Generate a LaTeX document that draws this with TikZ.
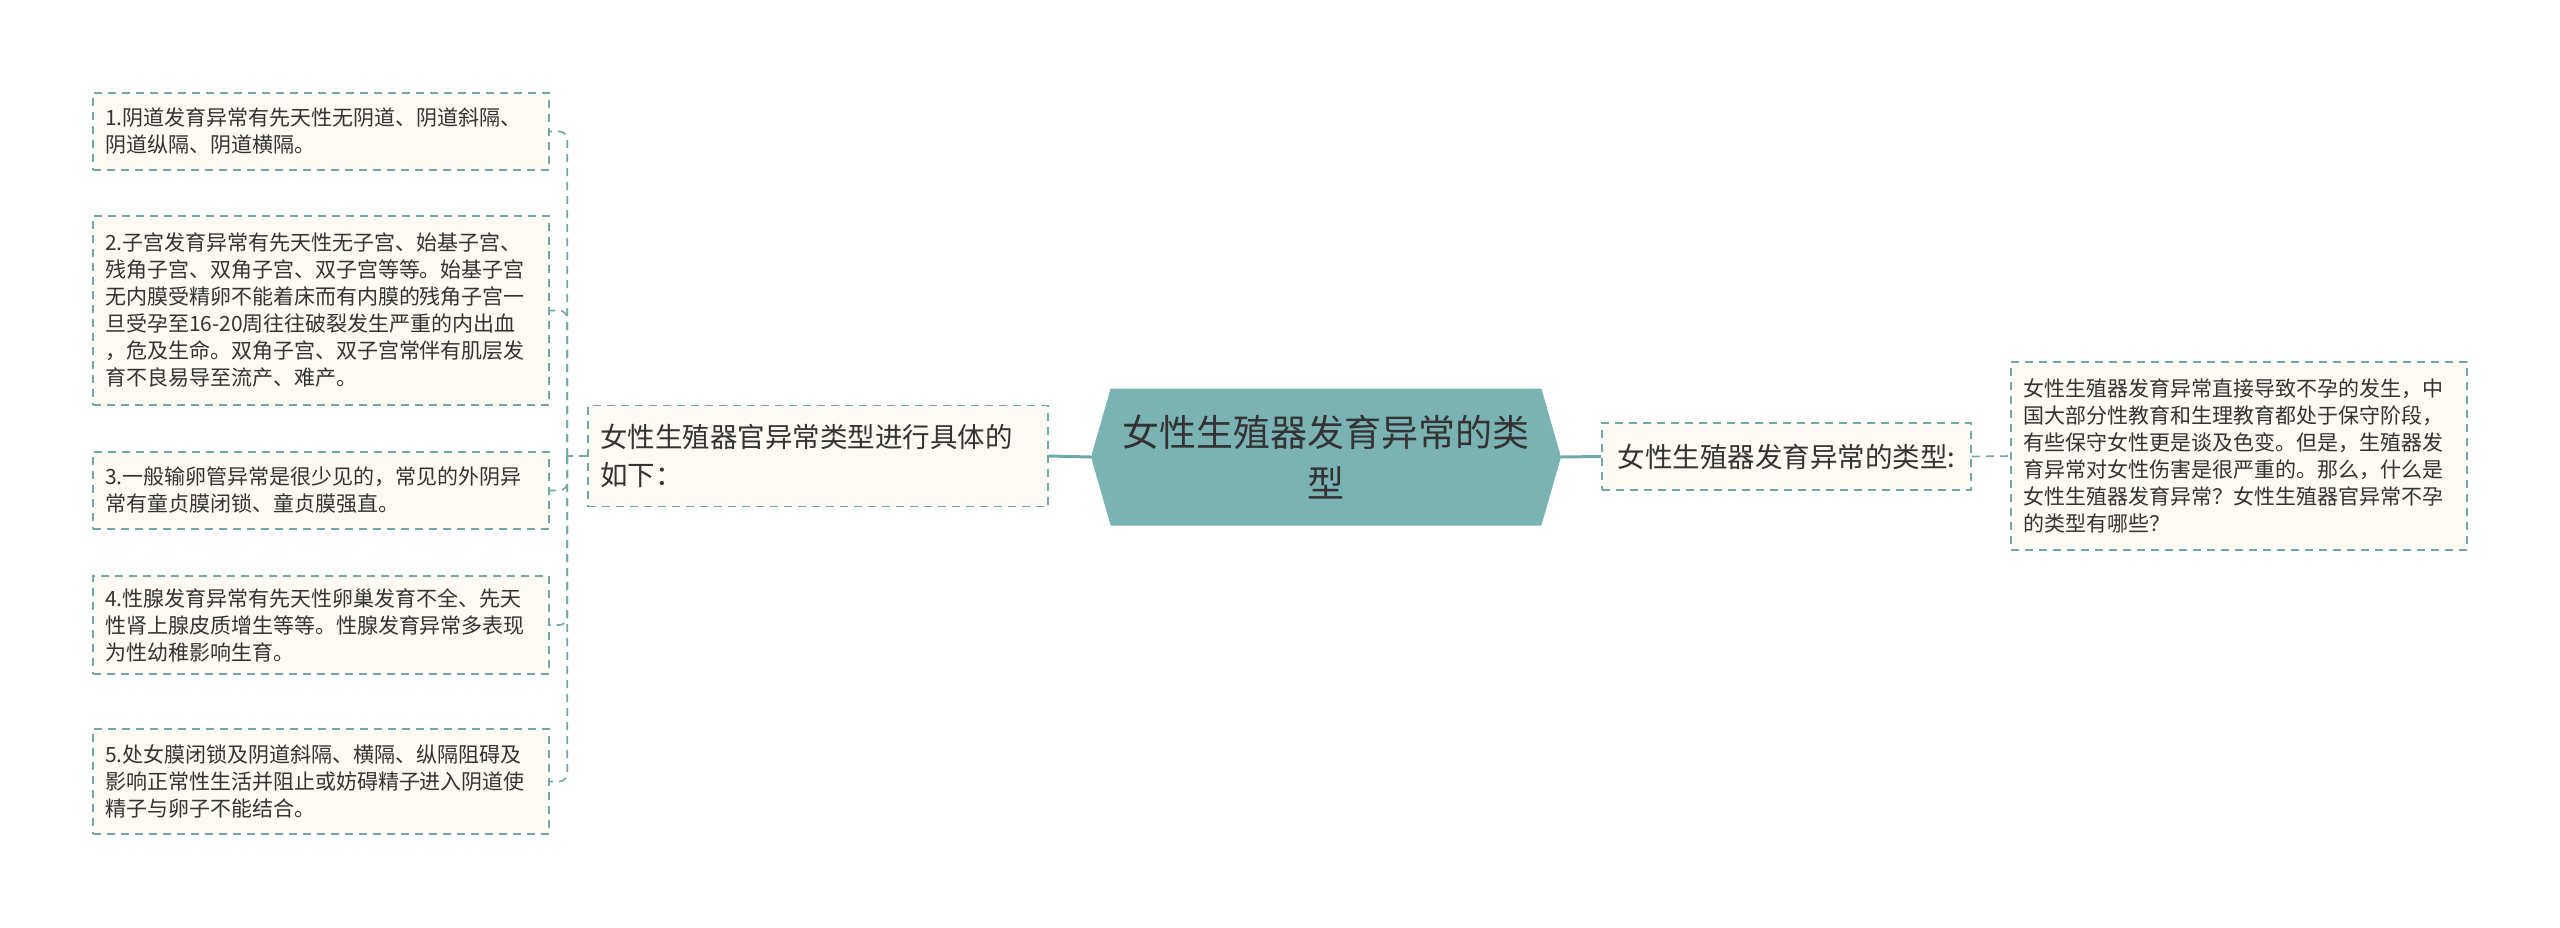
\documentclass[tikz,border=0pt]{standalone}
\usepackage{fontspec}
\setmainfont{Noto Sans CJK SC}
\usetikzlibrary{shapes.symbols}
\definecolor{rootfill}{RGB}{123,179,181}
\definecolor{linecol}{RGB}{112,168,166}
\definecolor{boxfill}{RGB}{252,250,242}
\definecolor{txt}{RGB}{51,51,51}
\tikzset{
  box/.style={draw=linecol, fill=boxfill, dash pattern=on 8pt off 6pt, line width=1.6pt, text=txt, align=left, inner sep=12pt},
  leaf/.style={box, text width=432pt, font=\fontsize{21}{27}\selectfont},
  topic/.style={box, font=\fontsize{27.5}{37.5}\selectfont},
  root/.style={signal, signal to=west and east, signal pointer angle=148, fill=rootfill, text=txt, align=center, font=\fontsize{37}{50.5}\selectfont, minimum width=470pt, minimum height=137pt},
  link/.style={draw=linecol, line width=1.6pt, dash pattern=on 8pt off 6pt},
  solidlink/.style={draw=linecol, line width=3pt}
}

\begin{document}
\begin{tikzpicture}[x=1pt, y=-1pt]
\useasboundingbox (0,0) rectangle (2560,927);
\node[root] (root) at (1326,457) {女性生殖器发育异常的类\\型};
\node[topic, text width=436pt, minimum height=101pt] (mid) at (818,456) {女性生殖器官异常类型进行具体的\\如下：};
\node[topic, minimum width=369pt, minimum height=67pt, align=center] (rmid) at (1786.5,456.5) {女性生殖器发育异常的类型:};
\node[leaf, minimum height=188pt] (rleaf) at (2239,456) {女性生殖器发育异常直接导致不孕的发生，中\\国大部分性教育和生理教育都处于保守阶段，\\有些保守女性更是谈及色变。但是，生殖器发\\育异常对女性伤害是很严重的。那么，什么是\\女性生殖器发育异常？女性生殖器官异常不孕\\的类型有哪些？};

\node[leaf, minimum height=77pt] (b1) at (321,131.5) {1.阴道发育异常有先天性无阴道、阴道斜隔、\\阴道纵隔、阴道横隔。};
\node[leaf, minimum height=189pt] (b2) at (321,310.5) {2.子宫发育异常有先天性无子宫、始基子宫、\\残角子宫、双角子宫、双子宫等等。始基子宫\\无内膜受精卵不能着床而有内膜的残角子宫一\\旦受孕至16-20周往往破裂发生严重的内出血\\，危及生命。双角子宫、双子宫常伴有肌层发\\育不良易导至流产、难产。};
\node[leaf, minimum height=77pt] (b3) at (321,490.5) {3.一般输卵管异常是很少见的，常见的外阴异\\常有童贞膜闭锁、童贞膜强直。};
\node[leaf, minimum height=98pt] (b4) at (321,625) {4.性腺发育异常有先天性卵巢发育不全、先天\\性肾上腺皮质增生等等。性腺发育异常多表现\\为性幼稚影响生育。};
\node[leaf, minimum height=105pt] (b5) at (321,781.5) {5.处女膜闭锁及阴道斜隔、横隔、纵隔阻碍及\\影响正常性生活并阻止或妨碍精子进入阴道使\\精子与卵子不能结合。};

\draw[solidlink] (mid.east) -- (root.west);
\draw[solidlink] (root.east) -- (rmid.west);
\draw[link] (rmid.east) -- (rleaf.west);
\coordinate (fork) at ([xshift=-20pt]mid.west);
\draw[link] (mid.west) -- (fork);
\foreach \n in {b1,b2,b3,b4,b5}
  \draw[link, rounded corners=8pt] (fork) |- (\n.east);
\end{tikzpicture}
\end{document}
